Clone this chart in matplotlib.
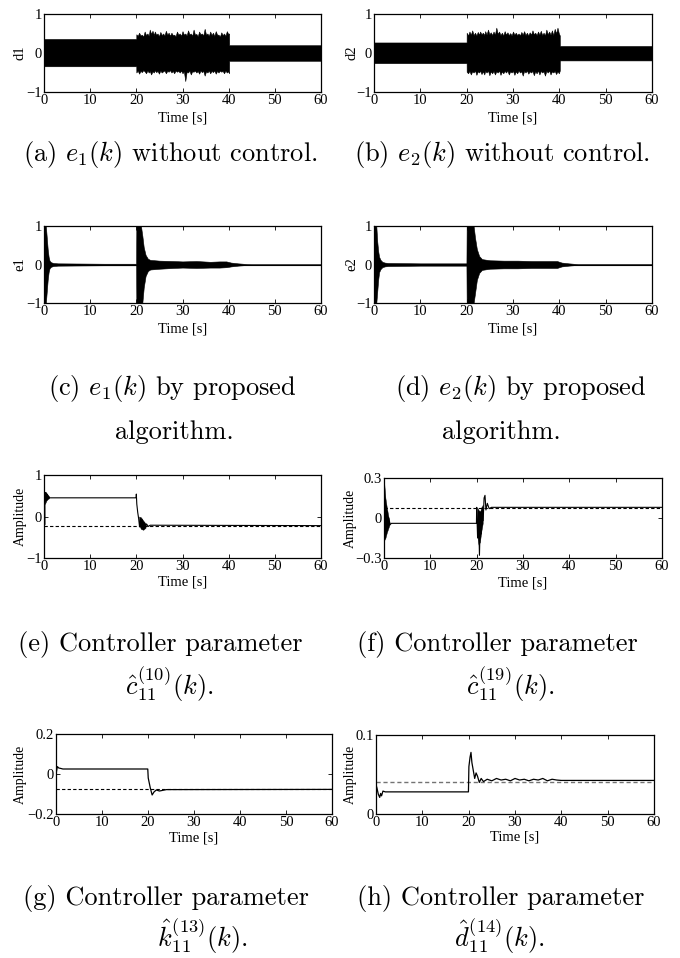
import matplotlib
matplotlib.use('Agg')
import matplotlib.pyplot as plt
import numpy as np

plt.rcParams['font.family'] = ['Liberation Serif', 'DejaVu Serif']
plt.rcParams['mathtext.fontset'] = 'cm'
plt.rcParams['axes.unicode_minus'] = True

# ---- data (envelopes of the dense signals) ----
xticks = [0, 10, 20, 30, 40, 50, 60]

# (a) d1 : steady band, noisy burst 20-40 s, smaller band after
d1_base = (0.36, -0.34)
d1_tail = (0.20, -0.20)
d1_t = [20.0, 20.3, 20.6, 20.9, 21.2, 21.5, 21.8, 22.1, 22.4, 22.7, 22.9, 23.2, 23.5, 23.8,
        24.0, 24.3, 24.6, 24.9, 25.2, 25.5, 25.8, 26.1, 26.4, 26.7, 27.0, 27.3, 27.6, 27.9,
        28.2, 28.5, 28.8, 29.1, 29.4, 29.7, 30.0, 30.3, 30.6, 30.9, 31.2, 31.5, 31.8, 32.1,
        32.4, 32.7, 33.0, 33.3, 33.6, 33.9, 34.2, 34.5, 34.8, 35.1, 35.4, 35.7, 36.0, 36.3,
        36.6, 36.9, 37.2, 37.5, 37.8, 38.1, 38.4, 38.7, 39.0, 39.3, 39.6, 39.9, 40.1]
d1_up = [0.48, 0.44, 0.52, 0.45, 0.47, 0.42, 0.55, 0.46, 0.50, 0.44, 0.60, 0.49, 0.57, 0.46,
         0.55, 0.47, 0.50, 0.43, 0.54, 0.46, 0.50, 0.45, 0.57, 0.47, 0.52, 0.44, 0.52, 0.46,
         0.47, 0.43, 0.55, 0.47, 0.50, 0.44, 0.56, 0.47, 0.50, 0.45, 0.58, 0.48, 0.50, 0.44,
         0.60, 0.47, 0.49, 0.43, 0.55, 0.48, 0.50, 0.45, 0.62, 0.47, 0.50, 0.44, 0.55, 0.46,
         0.52, 0.44, 0.56, 0.47, 0.47, 0.42, 0.53, 0.46, 0.50, 0.44, 0.56, 0.49, 0.50]
d1_lo = [-0.50, -0.45, -0.53, -0.46, -0.49, -0.44, -0.47, -0.52, -0.45, -0.50, -0.46, -0.55,
         -0.47, -0.50, -0.44, -0.49, -0.46, -0.53, -0.45, -0.50, -0.47, -0.45, -0.52, -0.46,
         -0.48, -0.44, -0.50, -0.46, -0.52, -0.45, -0.48, -0.46, -0.50, -0.45, -0.52, -0.47,
         -0.72, -0.48, -0.50, -0.45, -0.55, -0.47, -0.48, -0.45, -0.50, -0.46, -0.53, -0.45,
         -0.49, -0.46, -0.58, -0.47, -0.50, -0.45, -0.52, -0.46, -0.49, -0.45, -0.53, -0.46,
         -0.50, -0.45, -0.48, -0.46, -0.52, -0.45, -0.50, -0.47, -0.52]

# (b) d2
d2_base = (0.27, -0.26)
d2_tail = (0.18, -0.19)
d2_t = d1_t
d2_up = [0.52, 0.45, 0.55, 0.47, 0.58, 0.46, 0.52, 0.45, 0.54, 0.47, 0.55, 0.48, 0.52, 0.46,
         0.56, 0.47, 0.60, 0.48, 0.53, 0.46, 0.55, 0.47, 0.65, 0.49, 0.55, 0.46, 0.52, 0.45,
         0.56, 0.47, 0.53, 0.46, 0.51, 0.45, 0.55, 0.47, 0.52, 0.46, 0.50, 0.45, 0.54, 0.47,
         0.56, 0.46, 0.52, 0.45, 0.53, 0.47, 0.58, 0.48, 0.52, 0.46, 0.55, 0.47, 0.57, 0.46,
         0.52, 0.45, 0.60, 0.48, 0.55, 0.47, 0.58, 0.46, 0.62, 0.50, 0.65, 0.50, 0.45]
d2_lo = [-0.48, -0.52, -0.46, -0.55, -0.47, -0.50, -0.45, -0.56, -0.47, -0.50, -0.45, -0.54,
         -0.47, -0.55, -0.46, -0.50, -0.45, -0.57, -0.47, -0.52, -0.46, -0.55, -0.47, -0.50,
         -0.45, -0.56, -0.47, -0.52, -0.46, -0.50, -0.45, -0.55, -0.47, -0.50, -0.46, -0.56,
         -0.47, -0.52, -0.45, -0.50, -0.47, -0.58, -0.46, -0.50, -0.45, -0.53, -0.47, -0.50,
         -0.46, -0.57, -0.47, -0.52, -0.45, -0.55, -0.46, -0.50, -0.47, -0.58, -0.46, -0.50,
         -0.45, -0.55, -0.47, -0.50, -0.46, -0.54, -0.47, -0.52, -0.45]

# (c) e1 error envelope
e1_t = [0.0, 0.4, 0.6, 0.8, 1.0, 1.2, 1.5, 2.0, 3.0, 8.0, 13.0, 19.95,
        20.0, 21.0, 21.3, 21.6, 22.0, 22.5, 23.0, 25.0, 28.0, 30.0, 33.0, 36.0, 38.0, 39.5,
        40.5, 42.0, 44.0, 45.0, 60.0]
e1_up = [1.0, 1.0, 0.7, 0.4, 0.2, 0.1, 0.06, 0.04, 0.03, 0.025, 0.02, 0.02,
         1.0, 1.0, 0.75, 0.45, 0.25, 0.15, 0.12, 0.10, 0.09, 0.08, 0.09, 0.07, 0.08, 0.08,
         0.05, 0.03, 0.012, 0.008, 0.008]
e1_lo = [-1.0, -1.0, -0.7, -0.4, -0.2, -0.1, -0.06, -0.04, -0.03, -0.025, -0.02, -0.02,
         -1.0, -1.0, -1.0, -0.6, -0.3, -0.17, -0.13, -0.11, -0.09, -0.08, -0.09, -0.08, -0.08,
         -0.07, -0.05, -0.03, -0.012, -0.008, -0.008]

# (d) e2 error envelope
e2_t = [0.0, 0.5, 0.7, 0.9, 1.1, 1.4, 1.8, 2.3, 3.0, 10.0, 19.95,
        20.0, 21.5, 21.8, 22.2, 22.7, 23.3, 25.0, 28.0, 31.0, 34.0, 37.0, 39.5,
        40.5, 42.0, 44.0, 60.0]
e2_up = [1.0, 1.0, 0.6, 0.35, 0.2, 0.12, 0.07, 0.05, 0.04, 0.03, 0.03,
         1.0, 1.0, 0.7, 0.4, 0.22, 0.14, 0.11, 0.10, 0.10, 0.09, 0.09, 0.09,
         0.05, 0.03, 0.01, 0.01]
e2_lo = [-1.0, -1.0, -0.7, -0.4, -0.2, -0.12, -0.07, -0.05, -0.04, -0.03, -0.03,
         -1.0, -1.0, -0.75, -0.4, -0.22, -0.14, -0.11, -0.10, -0.10, -0.09, -0.09, -0.09,
         -0.05, -0.03, -0.01, -0.01]

# (e) c_11^(10)
c10_ref = -0.22
c10_t = [0.0, 0.05, 0.1, 0.15, 0.2, 0.3, 0.4, 0.5, 0.6, 0.7, 0.8, 0.9, 1.0, 1.2, 19.95,
         20.0, 20.1, 20.3, 20.5, 20.7, 20.9, 21.1, 21.3, 21.5, 21.7, 21.9, 22.2, 22.6, 23.0, 60.0]
c10_v = [-0.3, -0.45, 0.3, -0.2, 0.55, 0.35, 0.58, 0.4, 0.55, 0.42, 0.52, 0.44, 0.48, 0.45, 0.45,
         0.54, 0.3, 0.1, -0.05, -0.25, -0.05, -0.28, -0.08, -0.3, -0.15, -0.27, -0.18, -0.24,
         -0.21, -0.22]
c10_blob_t = [0.2, 0.5, 0.8, 1.1, 20.6, 21.0, 21.5, 22.0]
c10_blob_up = [0.55, 0.55, 0.52, 0.48, 0.0, -0.02, -0.1, -0.17]
c10_blob_lo = [0.3, 0.38, 0.42, 0.44, -0.2, -0.3, -0.32, -0.27]

# (f) c_11^(19)
c19_ref = 0.075
c19_t = [0.0, 0.05, 0.1, 0.2, 0.3, 0.45, 0.6, 0.8, 1.0, 1.3, 1.6, 19.95,
         20.0, 20.2, 20.4, 20.6, 20.8, 21.0, 21.2, 21.4, 21.6, 21.8, 22.0, 22.3, 22.7, 23.2, 60.0]
c19_v = [0.3, -0.17, 0.2, -0.15, 0.12, -0.1, 0.05, -0.07, 0.0, -0.05, -0.04, -0.04,
         0.08, -0.15, 0.05, -0.28, 0.0, -0.12, 0.08, -0.02, 0.15, 0.17, 0.06, 0.11, 0.07, 0.08, 0.08]
c19_blob_t = [0.0, 0.3, 0.6, 0.9, 1.2, 20.1, 20.4, 20.7, 21.0, 21.3]
c19_blob_up = [0.28, 0.15, 0.08, 0.02, -0.03, 0.08, 0.06, 0.05, 0.07, 0.1]
c19_blob_lo = [-0.17, -0.15, -0.11, -0.08, -0.05, -0.12, -0.2, -0.18, -0.1, -0.04]

# (g) k_11^(13)
k13_ref = -0.077
k13_t = [0.0, 0.3, 0.6, 1.0, 1.5, 19.95, 20.05, 20.5, 20.9, 21.3, 21.8, 22.5, 24.0, 60.0]
k13_v = [0.0, 0.037, 0.03, 0.028, 0.025, 0.025, -0.02, -0.07, -0.105, -0.09, -0.08, -0.085,
         -0.078, -0.077]

# (h) d_11^(14)
d14_ref = 0.040
d14_t = [0.0, 0.2, 0.5, 0.8, 1.0, 1.2, 1.5, 2.0, 19.95,
         20.05, 20.3, 20.5, 20.7, 21.0, 21.3, 21.6, 21.9, 22.3, 22.7, 23.2,
         24.0, 25.0, 26.0, 27.0, 28.0, 29.0, 30.0, 31.0, 32.0, 33.0, 34.0, 35.0, 36.0, 37.0,
         38.0, 39.0, 40.0, 60.0]
d14_v = [0.037, 0.033, 0.025, 0.021, 0.026, 0.023, 0.029, 0.028, 0.028,
         0.060, 0.072, 0.078, 0.065, 0.055, 0.045, 0.052, 0.048, 0.040, 0.045, 0.041,
         0.044, 0.042, 0.045, 0.043, 0.044, 0.042, 0.045, 0.043, 0.044, 0.042, 0.044, 0.043,
         0.045, 0.042, 0.044, 0.043, 0.0425, 0.0425]

captions = [
    (r'(a) $e_1(k)$ without control.', None),
    (r'(b) $e_2(k)$ without control.', None),
    (r'(c) $e_1(k)$ by proposed', 'algorithm.'),
    (r'(d) $e_2(k)$ by proposed', 'algorithm.'),
    ('(e) Controller parameter', r'$\hat{c}_{11}^{(10)}(k).$'),
    ('(f) Controller parameter', r'$\hat{c}_{11}^{(19)}(k).$'),
    ('(g) Controller parameter', r'$\hat{k}_{11}^{(13)}(k).$'),
    ('(h) Controller parameter', r'$\hat{d}_{11}^{(14)}(k).$'),
]

# ---- layout (pixel boxes of the reference) ----
W, H = 680, 958
fig = plt.figure(figsize=(W / 100, H / 100), dpi=100)


def box(x0, x1, y0, y1):
    return [x0 / W, 1 - y1 / H, (x1 - x0) / W, (y1 - y0) / H]


def style(ax, ylim, yticks, ylabel, ylab_x, xlab_y):
    ax.set_xlim(0, 60)
    ax.set_ylim(*ylim)
    ax.set_xticks(xticks)
    ax.set_yticks(yticks)
    ax.set_yticklabels([('%g' % v).replace('-', '\u2212') for v in yticks])
    ax.tick_params(direction='in', top=True, right=True, length=3, width=0.6,
                   labelsize=10.5, pad=1.5)
    for s in ax.spines.values():
        s.set_linewidth(0.9)
    ax.set_xlabel('Time [s]', fontsize=10.5)
    ax.xaxis.set_label_coords(0.5, xlab_y)
    ax.xaxis.label.set_va('center')
    ax.set_ylabel(ylabel, fontsize=10.5 if ylabel != 'Amplitude' else 10)
    ax.yaxis.set_label_coords(ylab_x, 0.5)
    ax.yaxis.label.set_va('center')


def band(ax, base, tail, t, up, lo):
    tt = [0.0, 19.99] + list(t) + [40.11, 60.0]
    uu = [base[0], base[0]] + list(up) + [tail[0], tail[0]]
    ll = [base[1], base[1]] + list(lo) + [tail[1], tail[1]]
    ax.fill_between(tt, ll, uu, color='k', lw=0.4)


axa = fig.add_axes(box(44, 321, 14, 92))
band(axa, d1_base, d1_tail, d1_t, d1_up, d1_lo)
style(axa, (-1, 1), [-1, 0, 1], 'd1', -0.087, -0.33)

axb = fig.add_axes(box(374, 652, 14, 92))
band(axb, d2_base, d2_tail, d2_t, d2_up, d2_lo)
style(axb, (-1, 1), [-1, 0, 1], 'd2', -0.079, -0.33)

axc = fig.add_axes(box(44, 321, 226, 303))
axc.fill_between(e1_t, e1_lo, e1_up, color='k', lw=0.4)
axc.plot([0, 60], [0, 0], color='k', lw=0.8)
style(axc, (-1, 1), [-1, 0, 1], 'e1', -0.087, -0.34)

axd = fig.add_axes(box(374, 652, 226, 303))
axd.fill_between(e2_t, e2_lo, e2_up, color='k', lw=0.4)
axd.plot([0, 60], [0, 0], color='k', lw=0.8)
style(axd, (-1, 1), [-1, 0, 1], 'e2', -0.079, -0.34)

axe = fig.add_axes(box(44, 321, 475, 558))
axe.axhline(c10_ref, color='k', lw=0.8, dashes=(3, 2))
axe.fill_between(c10_blob_t[:4], c10_blob_lo[:4], c10_blob_up[:4], color='k', lw=0.3)
axe.fill_between(c10_blob_t[4:], c10_blob_lo[4:], c10_blob_up[4:], color='k', lw=0.3)
axe.plot(c10_t, c10_v, color='k', lw=0.8)
style(axe, (-1, 1), [-1, 0, 1], 'Amplitude', -0.087, -0.29)

axf = fig.add_axes(box(384, 662, 478, 558))
axf.axhline(c19_ref, color='k', lw=0.8, dashes=(3, 2))
axf.fill_between(c19_blob_t[:5], c19_blob_lo[:5], c19_blob_up[:5], color='k', lw=0.3)
axf.fill_between(c19_blob_t[5:], c19_blob_lo[5:], c19_blob_up[5:], color='k', lw=0.3)
axf.plot(c19_t, c19_v, color='k', lw=0.8)
style(axf, (-0.3, 0.3), [-0.3, 0, 0.3], 'Amplitude', -0.122, -0.31)

axg = fig.add_axes(box(56, 332, 734, 814))
axg.axhline(k13_ref, color='k', lw=0.8, dashes=(3, 2))
axg.plot(k13_t, k13_v, color='k', lw=0.9)
style(axg, (-0.2, 0.2), [-0.2, 0, 0.2], 'Amplitude', -0.13, -0.30)

axh = fig.add_axes(box(376, 654, 735, 814))
axh.axhline(d14_ref, color='0.45', lw=1.0, dashes=(3, 2))
axh.plot(d14_t, d14_v, color='k', lw=0.9)
style(axh, (0, 0.1), [0, 0.1], 'Amplitude', -0.094, -0.29)

# ---- captions ----
cap_pos = [
    ((170, 155), None),
    ((502, 155), None),
    ((172, 388), (174, 432)),
    ((521, 388), (501, 432)),
    ((160, 645), (169, 684)),
    ((497, 645), (510, 684)),
    ((166, 898), (202, 936)),
    ((501, 898), (499, 936)),
]
for (l1, l2), (p1, p2) in zip(captions, cap_pos):
    fig.text(p1[0] / W, 1 - p1[1] / H, l1, family='cmr10', fontsize=19,
             ha='center', va='center')
    if l2 is not None:
        fig.text(p2[0] / W, 1 - p2[1] / H, l2, family='cmr10', fontsize=19,
                 ha='center', va='center')

fig.savefig('out.png', dpi=100)
